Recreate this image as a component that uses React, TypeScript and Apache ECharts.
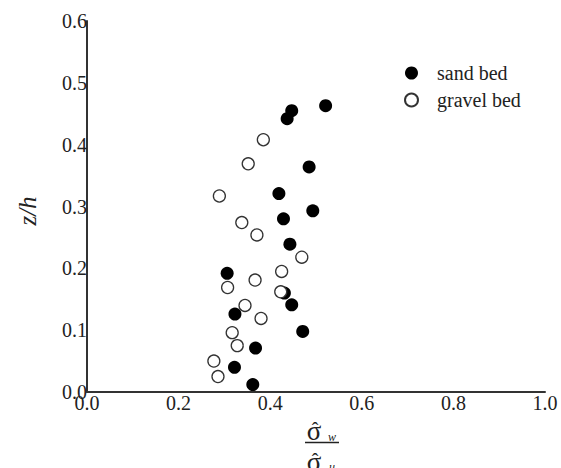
import React, { useEffect, useRef } from "react";
import * as echarts from "echarts";

const sandX = [0.521, 0.447, 0.437, 0.485, 0.419, 0.493, 0.429, 0.443, 0.306, 0.431, 0.447, 0.323, 0.471, 0.368, 0.322, 0.362];
const sandY = [0.463, 0.455, 0.442, 0.364, 0.321, 0.293, 0.280, 0.239, 0.192, 0.160, 0.141, 0.126, 0.098, 0.071, 0.040, 0.012];
const gravelX = [0.385, 0.352, 0.289, 0.338, 0.371, 0.469, 0.425, 0.367, 0.307, 0.423, 0.345, 0.380, 0.317, 0.328, 0.277, 0.286];
const gravelY = [0.408, 0.369, 0.317, 0.274, 0.254, 0.218, 0.195, 0.181, 0.169, 0.162, 0.140, 0.119, 0.096, 0.075, 0.050, 0.025];
const seriesNames = ["sand bed", "gravel bed"];

const FONT = "'Liberation Serif', 'Times New Roman', serif";

export default function App() {
  const ref = useRef<HTMLDivElement>(null);
  useEffect(() => {
    if (!ref.current) return;
    const chart = echarts.init(ref.current, undefined, { renderer: "svg" });
    const axisCommon = {
      axisLine: { show: true, onZero: false, lineStyle: { color: "#333", width: 2 } },
      axisTick: { show: false },
      splitLine: { show: false },
    };
    chart.setOption({
      animation: false,
      backgroundColor: "#fff",
      grid: { left: 87, right: 16, top: 21, bottom: 76 },
      xAxis: {
        type: "value",
        min: 0,
        max: 1,
        interval: 0.2,
        ...axisCommon,
        axisLabel: { color: "#222", fontFamily: FONT, fontSize: 20, margin: 1, formatter: (v: number) => v.toFixed(1) },
      },
      yAxis: {
        type: "value",
        min: 0,
        max: 0.6,
        interval: 0.1,
        ...axisCommon,
        axisLabel: { color: "#222", fontFamily: FONT, fontSize: 20, margin: 0, formatter: (v: number) => v.toFixed(1) },
      },
      legend: {
        data: seriesNames,
        orient: "vertical",
        left: 399,
        top: 58,
        itemWidth: 13,
        itemHeight: 13,
        itemGap: 7,
        textStyle: { fontFamily: FONT, fontSize: 20, color: "#222", padding: [0, 0, 0, 14] },
      },
      series: [
        {
          name: seriesNames[0],
          type: "scatter",
          symbol: "circle",
          symbolSize: 13,
          itemStyle: { color: "#000", opacity: 1 },
          data: sandX.map((x, i) => [x, sandY[i]]),
        },
        {
          name: seriesNames[1],
          type: "scatter",
          symbol: "circle",
          symbolSize: 12,
          itemStyle: { color: "#fff", borderColor: "#333", borderWidth: 1.3, opacity: 1 },
          data: gravelX.map((x, i) => [x, gravelY[i]]),
        },
      ],
      graphic: [
        {
          type: "text",
          x: 27,
          y: 211,
          rotation: Math.PI / 2,
          style: { text: "z/h", font: `italic 25px ${FONT}`, fill: "#222", align: "center", verticalAlign: "middle" },
        },
        {
          type: "text",
          x: 314,
          y: 431,
          style: { text: "σ", font: `27px ${FONT}`, fill: "#222", align: "center", verticalAlign: "middle" },
        },
        {
          type: "text",
          x: 315,
          y: 430,
          style: { text: "ˆ", font: `20px ${FONT}`, fill: "#222", align: "center", verticalAlign: "middle" },
        },
        {
          type: "text",
          x: 332,
          y: 437,
          style: { text: "w", font: `italic 12px ${FONT}`, fill: "#222", align: "center", verticalAlign: "middle" },
        },
        {
          type: "line",
          shape: { x1: 305, y1: 442.5, x2: 339, y2: 442.5 },
          style: { stroke: "#222", lineWidth: 1.3 },
        },
        {
          type: "text",
          x: 314,
          y: 462,
          style: { text: "σ", font: `27px ${FONT}`, fill: "#222", align: "center", verticalAlign: "middle" },
        },
        {
          type: "text",
          x: 315,
          y: 461,
          style: { text: "ˆ", font: `20px ${FONT}`, fill: "#222", align: "center", verticalAlign: "middle" },
        },
        {
          type: "text",
          x: 332,
          y: 467,
          style: { text: "u", font: `italic 12px ${FONT}`, fill: "#222", align: "center", verticalAlign: "middle" },
        },
      ],
    });
    return () => chart.dispose();
  }, []);
  return <div ref={ref} style={{ width: 561, height: 468, position: "absolute", left: 0, top: 0 }} />;
}
